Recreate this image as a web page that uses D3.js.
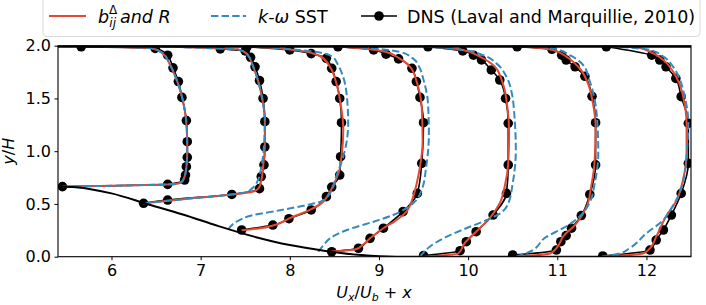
<!DOCTYPE html>
<html>
<head>
<meta charset="utf-8">
<script src="https://cdn.jsdelivr.net/npm/d3@7"></script>
<style>
  body { margin: 0; background: #fff; }
  text { font-family: "DejaVu Sans", sans-serif; fill: #000; }
</style>
</head>
<body>
<script>
// canvas size
var width = 706;
var height = 305;

// axis ticks
var xTicks = [6, 7, 8, 9, 10, 11, 12];
var yTicks = [0.0, 0.5, 1.0, 1.5, 2.0];

// lower wall (bump) shape
var hillX = [5.4, 5.6, 6.0, 6.4, 6.8, 7.2, 7.6, 8.0, 8.4, 8.8, 9.2, 9.6, 12.5];
var hillY = [0.665, 0.658, 0.60, 0.50, 0.40, 0.29, 0.19, 0.11, 0.055, 0.015, 0.0, 0.0, 0.0];

// DNS profiles [U/Ub + x, y/H]
var dnsProfiles = [
  [[5.45,0.664],[6.63,0.686],[6.82,0.727],[6.83,0.774],[6.84,0.853],[6.85,0.942],[6.85,1.09],[6.84,1.29],[6.79,1.51],[6.75,1.66],[6.69,1.79],[6.63,1.91],[6.49,1.975],[5.66,1.99]],
  [[6.36,0.506],[6.63,0.537],[7.35,0.59],[7.66,0.645],[7.68,0.76],[7.71,0.87],[7.72,1.04],[7.72,1.28],[7.70,1.50],[7.66,1.67],[7.61,1.80],[7.56,1.89],[7.50,1.95],[7.22,1.97]],
  [[7.46,0.253],[7.81,0.30],[7.99,0.36],[8.24,0.443],[8.41,0.569],[8.47,0.66],[8.56,0.774],[8.57,0.948],[8.58,1.27],[8.56,1.50],[8.52,1.66],[8.47,1.786],[8.41,1.88],[8.24,1.925],[8.0,1.96],[7.52,1.99]],
  [[8.47,0.047],[8.77,0.08],[8.90,0.174],[9.05,0.27],[9.27,0.427],[9.43,0.60],[9.48,0.885],[9.50,1.27],[9.46,1.51],[9.42,1.66],[9.37,1.786],[9.22,1.875],[9.08,1.92],[8.94,1.96],[8.54,1.99]],
  [[9.50,0.01],[9.91,0.057],[9.98,0.142],[10.09,0.237],[10.28,0.395],[10.43,0.60],[10.45,0.87],[10.45,1.264],[10.42,1.50],[10.355,1.675],[10.26,1.77],[10.15,1.865],[10.06,1.91],[9.94,1.95],[9.55,1.99]],
  [[10.50,0.016],[10.99,0.063],[11.04,0.142],[11.10,0.20],[11.16,0.27],[11.27,0.39],[11.365,0.59],[11.43,0.87],[11.43,1.27],[11.39,1.52],[11.31,1.71],[11.20,1.80],[11.10,1.864],[11.05,1.91],[10.94,1.966],[10.55,1.99]],
  [[11.51,0.007],[12.04,0.063],[12.11,0.158],[12.19,0.253],[12.28,0.395],[12.39,0.60],[12.47,0.885],[12.47,1.264],[12.39,1.517],[12.33,1.69],[12.22,1.80],[12.15,1.864],[12.06,1.91],[11.55,1.99]]
];

// b_ij^Delta and R model profiles
var bijProfiles = [
  [[5.45,0.664],[6.0,0.672],[6.5,0.682],[6.72,0.69],[6.79,0.71],[6.82,0.76],[6.84,0.85],[6.85,1.0],[6.845,1.2],[6.82,1.4],[6.78,1.55],[6.72,1.70],[6.65,1.83],[6.57,1.93],[6.45,1.975],[6.0,1.99],[5.45,2.0]],
  [[6.36,0.506],[6.8,0.545],[7.35,0.59],[7.58,0.615],[7.65,0.65],[7.68,0.72],[7.70,0.85],[7.72,1.05],[7.72,1.3],[7.69,1.5],[7.65,1.65],[7.59,1.8],[7.52,1.92],[7.42,1.965],[7.0,1.98],[6.36,2.0]],
  [[7.46,0.25],[7.65,0.268],[7.83,0.30],[8.0,0.365],[8.225,0.443],[8.36,0.51],[8.44,0.60],[8.50,0.70],[8.55,0.80],[8.58,0.95],[8.60,1.2],[8.57,1.45],[8.52,1.65],[8.45,1.80],[8.34,1.90],[8.1,1.955],[7.52,1.998]],
  [[8.45,0.047],[8.74,0.07],[8.83,0.12],[8.90,0.174],[9.05,0.27],[9.20,0.348],[9.31,0.43],[9.38,0.56],[9.43,0.72],[9.46,0.85],[9.49,1.1],[9.48,1.42],[9.43,1.64],[9.35,1.80],[9.23,1.88],[9.08,1.94],[8.8,1.975],[8.5,1.998]],
  [[9.50,0.0],[9.89,0.03],[9.96,0.127],[10.09,0.237],[10.24,0.364],[10.355,0.506],[10.41,0.664],[10.45,0.885],[10.46,1.17],[10.44,1.42],[10.39,1.64],[10.30,1.80],[10.13,1.896],[9.94,1.96],[9.53,1.998]],
  [[10.54,0.0],[10.92,0.03],[10.99,0.08],[11.065,0.19],[11.215,0.316],[11.33,0.474],[11.38,0.664],[11.42,0.917],[11.43,1.232],[11.40,1.454],[11.345,1.64],[11.25,1.786],[11.10,1.896],[10.95,1.96],[10.56,1.998]],
  [[11.50,0.0],[11.96,0.03],[12.04,0.08],[12.11,0.19],[12.22,0.38],[12.34,0.537],[12.41,0.727],[12.45,0.98],[12.45,1.264],[12.42,1.485],[12.37,1.64],[12.30,1.754],[12.19,1.864],[12.04,1.943],[11.89,1.985],[11.51,2.0]]
];

// k-omega SST profiles
var sstProfiles = [
  [[5.45,0.664],[6.0,0.672],[6.5,0.682],[6.72,0.69],[6.79,0.71],[6.82,0.76],[6.84,0.85],[6.85,1.0],[6.845,1.2],[6.82,1.4],[6.78,1.55],[6.72,1.70],[6.65,1.83],[6.57,1.93],[6.45,1.975],[6.0,1.99],[5.45,2.0]],
  [[6.36,0.506],[6.8,0.545],[7.30,0.585],[7.50,0.61],[7.58,0.65],[7.64,0.72],[7.68,0.85],[7.71,1.05],[7.72,1.3],[7.69,1.5],[7.65,1.65],[7.59,1.8],[7.52,1.92],[7.42,1.965],[7.0,1.98],[6.36,2.0]],
  [[7.31,0.26],[7.40,0.33],[7.59,0.395],[7.89,0.44],[8.19,0.49],[8.34,0.52],[8.45,0.60],[8.52,0.76],[8.60,0.95],[8.655,1.26],[8.64,1.52],[8.60,1.70],[8.54,1.82],[8.47,1.90],[8.26,1.945],[7.89,1.975],[7.52,1.998]],
  [[8.32,0.047],[8.38,0.11],[8.45,0.174],[8.64,0.253],[8.94,0.332],[9.16,0.395],[9.31,0.46],[9.40,0.52],[9.48,0.632],[9.53,0.853],[9.56,1.17],[9.55,1.454],[9.50,1.675],[9.45,1.80],[9.38,1.88],[9.23,1.943],[9.05,1.965],[8.5,1.998]],
  [[9.46,0.0],[9.57,0.095],[9.76,0.19],[9.98,0.27],[10.21,0.348],[10.36,0.411],[10.45,0.506],[10.50,0.695],[10.535,1.01],[10.52,1.327],[10.49,1.55],[10.43,1.706],[10.32,1.83],[10.17,1.91],[9.94,1.96],[9.46,1.998]],
  [[10.54,0.0],[10.69,0.047],[10.88,0.19],[11.065,0.27],[11.25,0.38],[11.36,0.506],[11.42,0.695],[11.46,0.98],[11.45,1.264],[11.42,1.485],[11.36,1.675],[11.29,1.817],[11.14,1.91],[10.95,1.975],[10.54,1.998]],
  [[11.50,0.0],[11.70,0.03],[11.81,0.08],[12.0,0.222],[12.19,0.348],[12.28,0.459],[12.37,0.60],[12.43,0.79],[12.455,1.01],[12.47,1.264],[12.43,1.517],[12.37,1.69],[12.30,1.80],[12.19,1.896],[12.04,1.96],[11.51,2.0]]
];

var red = "#E24A33";
var blue = "#348ABD";

var svg = d3.select("body").append("svg")
  .attr("width", width)
  .attr("height", height);

// scales
var x = d3.scaleLinear().domain([5.4, 12.5]).range([58, 691]);
var y = d3.scaleLinear().domain([0, 2]).range([256.7, 45.7]);

svg.append("clipPath").attr("id", "plot-clip")
  .append("rect")
  .attr("x", x(5.4)).attr("y", y(2))
  .attr("width", x(12.5) - x(5.4)).attr("height", y(0) - y(2));

var plot = svg.append("g").attr("clip-path", "url(#plot-clip)");

var profileLine = d3.line()
  .x(function(d) { return x(d[0]); })
  .y(function(d) { return y(d[1]); })
  .curve(d3.curveMonotoneY);

// DNS line and markers
dnsProfiles.forEach(function(p) {
  plot.append("path")
    .attr("d", profileLine(p))
    .attr("fill", "none")
    .attr("stroke", "#000")
    .attr("stroke-width", 1.6);
});
dnsProfiles.forEach(function(p) {
  plot.selectAll(null)
    .data(p)
    .enter()
    .append("circle")
    .attr("cx", function(d) { return x(d[0]); })
    .attr("cy", function(d) { return y(d[1]); })
    .attr("r", 4.8)
    .attr("fill", "#000");
});

// model lines
bijProfiles.forEach(function(p) {
  plot.append("path")
    .attr("d", profileLine(p))
    .attr("fill", "none")
    .attr("stroke", red)
    .attr("stroke-width", 2);
});
sstProfiles.forEach(function(p) {
  plot.append("path")
    .attr("d", profileLine(p))
    .attr("fill", "none")
    .attr("stroke", blue)
    .attr("stroke-width", 2)
    .attr("stroke-dasharray", "7.4,3.2");
});

// walls
var hillLine = d3.line()
  .x(function(d, i) { return x(hillX[i]); })
  .y(function(d, i) { return y(hillY[i]); })
  .curve(d3.curveMonotoneX);
plot.append("path")
  .attr("d", hillLine(hillX))
  .attr("fill", "none")
  .attr("stroke", "#000")
  .attr("stroke-width", 2);
plot.append("line")
  .attr("x1", x(5.4)).attr("x2", x(12.5))
  .attr("y1", y(2)).attr("y2", y(2))
  .attr("stroke", "#000")
  .attr("stroke-width", 4);

// frame
svg.append("rect")
  .attr("x", x(5.4)).attr("y", y(2))
  .attr("width", x(12.5) - x(5.4)).attr("height", y(0) - y(2))
  .attr("fill", "none")
  .attr("stroke", "#000")
  .attr("stroke-width", 1.1);

// axes
var xAxis = svg.append("g")
  .attr("transform", "translate(0," + y(0) + ")")
  .call(d3.axisBottom(x).tickValues(xTicks).tickSize(3.5).tickPadding(4).tickFormat(d3.format("d")));
var yAxis = svg.append("g")
  .attr("transform", "translate(" + x(5.4) + ",0)")
  .call(d3.axisLeft(y).tickValues(yTicks).tickSize(3.5).tickPadding(3.5).tickFormat(d3.format(".1f")));
[xAxis, yAxis].forEach(function(a) {
  a.select(".domain").remove();
  a.selectAll("text").style("font-size", "16px").style("font-family", "DejaVu Sans");
  a.selectAll("line").attr("stroke", "#000").attr("stroke-width", 1);
});

// axis labels
var xl = svg.append("text")
  .attr("x", 374).attr("y", 298)
  .attr("text-anchor", "middle")
  .style("font-size", "16px");
xl.append("tspan").style("font-style", "italic").text("U");
xl.append("tspan").style("font-style", "italic").style("font-size", "11px").attr("dy", 3).text("x");
xl.append("tspan").attr("dy", -3).text("/");
xl.append("tspan").style("font-style", "italic").text("U");
xl.append("tspan").style("font-style", "italic").style("font-size", "11px").attr("dy", 3).text("b");
xl.append("tspan").attr("dy", -3).text(" + ");
xl.append("tspan").style("font-style", "italic").text("x");

var yl = svg.append("text")
  .attr("transform", "translate(14," + y(1) + ") rotate(-90)")
  .attr("text-anchor", "middle")
  .style("font-size", "16px");
yl.append("tspan").style("font-style", "italic").text("y");
yl.append("tspan").text("/");
yl.append("tspan").style("font-style", "italic").text("H");

// legend
var legend = svg.append("g");
legend.append("rect")
  .attr("x", 43).attr("y", -4)
  .attr("width", 657).attr("height", 40.5)
  .attr("rx", 4)
  .attr("fill", "#fff")
  .attr("stroke", "#d9d9d9")
  .attr("stroke-width", 1);

var ly = 16;
var lfs = "17.5px";
legend.append("line")
  .attr("x1", 49).attr("x2", 86).attr("y1", ly).attr("y2", ly)
  .attr("stroke", red).attr("stroke-width", 2);
var t1 = legend.append("text").attr("x", 98).attr("y", ly + 6.5).style("font-size", lfs);
t1.append("tspan").style("font-style", "italic").text("b");
t1.append("tspan").style("font-size", "12px").attr("dy", -9).text("Δ");
t1.append("tspan").style("font-style", "italic").style("font-size", "12px").attr("dx", -8).attr("dy", 13).text("ij");
t1.append("tspan").style("font-style", "italic").attr("dx", 4).attr("dy", -4).text("and R");

legend.append("line")
  .attr("x1", 211).attr("x2", 246).attr("y1", ly).attr("y2", ly)
  .attr("stroke", blue).attr("stroke-width", 2)
  .attr("stroke-dasharray", "7.4,3.2");
var t2 = legend.append("text").attr("x", 258).attr("y", ly + 6.5).style("font-size", lfs);
t2.append("tspan").style("font-style", "italic").text("k-ω");
t2.append("tspan").text(" SST");

legend.append("line")
  .attr("x1", 361).attr("x2", 397).attr("y1", ly).attr("y2", ly)
  .attr("stroke", "#000").attr("stroke-width", 1.6);
legend.append("circle")
  .attr("cx", 379).attr("cy", ly).attr("r", 4.8).attr("fill", "#000");
legend.append("text")
  .attr("x", 407).attr("y", ly + 6.5)
  .style("font-size", lfs)
  .text("DNS (Laval and Marquillie, 2010)");
</script>
</body>
</html>
